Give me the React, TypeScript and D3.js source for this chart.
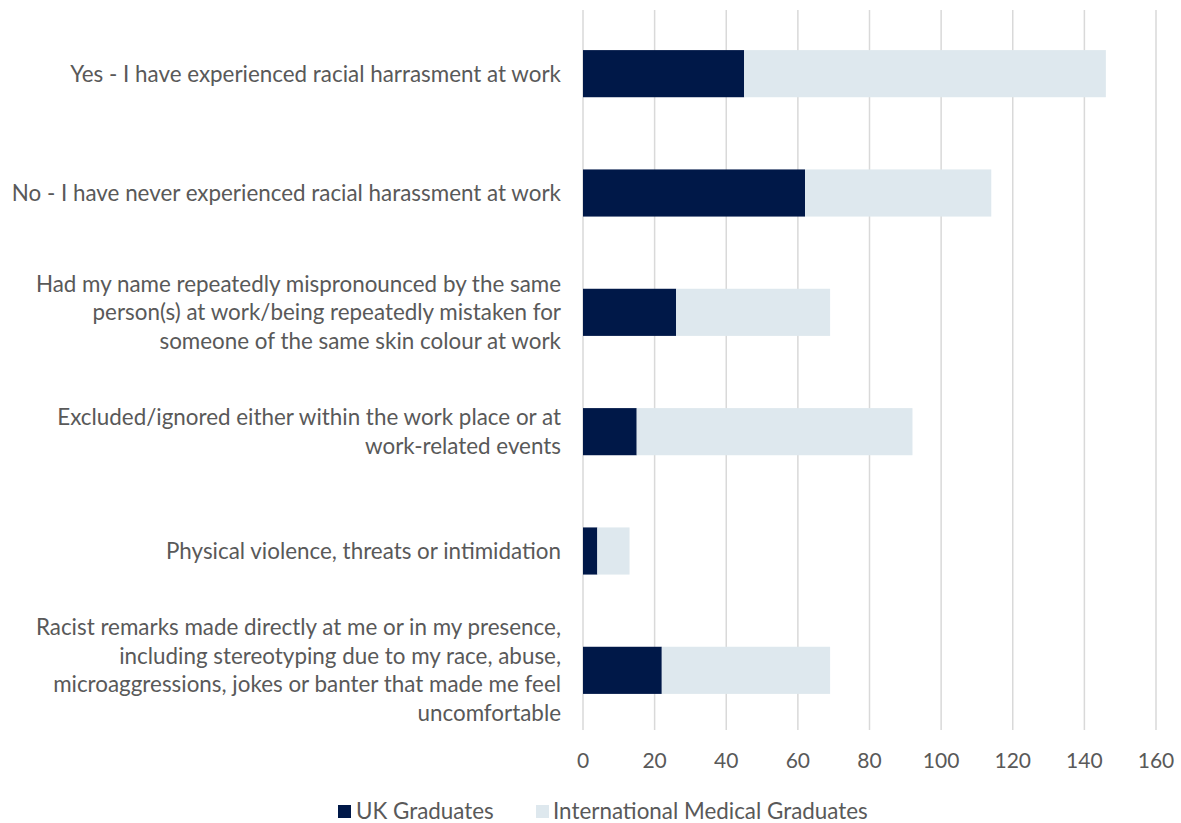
import React from "react";
import * as d3 from "d3";

const categories: string[][] = [
  ["Yes - I have experienced racial harrasment at work"],
  ["No - I have never experienced racial harassment at work"],
  [
    "Had my name repeatedly mispronounced by the same",
    "person(s) at work/being repeatedly mistaken for",
    "someone of the same skin colour at work",
  ],
  ["Excluded/ignored either within the work place or at", "work-related events"],
  ["Physical violence, threats or intimidation"],
  [
    "Racist remarks made directly at me or in my presence,",
    "including stereotyping due to my race, abuse,",
    "microaggressions, jokes or banter that made me feel",
    "uncomfortable",
  ],
];
const ukGraduates = [45, 62, 26, 15, 4, 22];
const internationalGraduates = [101, 52, 43, 77, 9, 47];
const xTicks = [0, 20, 40, 60, 80, 100, 120, 140, 160];
const seriesNames = ["UK Graduates", "International Medical Graduates"];
const seriesColors = ["#001848", "#DEE8EE"];

const W = 1181;
const H = 823;
const FONT = "Lato, 'Open Sans', sans-serif";
const FS = 22.4;

export default function App() {
  const x = d3.scaleLinear().domain([0, 160]).range([583, 1156]);
  const idx = categories.map((_, i) => String(i));
  const y = d3.scaleBand().domain(idx).range([14, 730]).paddingInner(0.605).paddingOuter(0.3025);
  const stack = d3.stack<number>().keys(["0", "1"]).value((i, k) =>
    k === "0" ? ukGraduates[i] : internationalGraduates[i]
  );
  const series = stack(categories.map((_, i) => i));
  const lineH = 28.5;

  return (
    <div style={{ position: "absolute", left: 0, top: 0 }}>
      <svg width={W} height={H} style={{ display: "block", background: "#fff" }}>
        {xTicks.map((t) => (
          <line key={t} x1={x(t)} x2={x(t)} y1={10} y2={730} stroke="#D9D9D9" strokeWidth={1.5} />
        ))}
        {series.map((s, si) =>
          s.map((d, i) => (
            <rect
              key={si + "-" + i}
              x={x(d[0])}
              y={y(String(i))}
              width={x(d[1]) - x(d[0])}
              height={y.bandwidth()}
              fill={seriesColors[si]}
            />
          ))
        )}
        {xTicks.map((t) => (
          <text
            key={"t" + t}
            x={x(t)}
            y={761}
            dy="0.35em"
            textAnchor="middle"
            fontFamily={FONT}
            fontSize={21}
            fill="#595959"
          >
            {t}
          </text>
        ))}
        {categories.map((lines, i) => {
          const cy = (y(String(i)) as number) + y.bandwidth() / 2;
          const start = cy - ((lines.length - 1) * lineH) / 2;
          return (
            <text key={"c" + i} textAnchor="end" fontFamily={FONT} fontSize={FS} fill="#595959">
              {lines.map((ln, j) => (
                <tspan key={j} x={561} y={start + j * lineH} dy="0.35em">
                  {ln}
                </tspan>
              ))}
            </text>
          );
        })}
        <g>
          <rect x={338} y={805} width={13} height={13} fill={seriesColors[0]} />
          <text x={356} y={811} dy="0.35em" fontFamily={FONT} fontSize={FS} fill="#595959">
            {seriesNames[0]}
          </text>
          <rect x={536} y={805} width={13} height={13} fill={seriesColors[1]} />
          <text x={553} y={811} dy="0.35em" fontFamily={FONT} fontSize={FS} fill="#595959">
            {seriesNames[1]}
          </text>
        </g>
      </svg>
    </div>
  );
}
